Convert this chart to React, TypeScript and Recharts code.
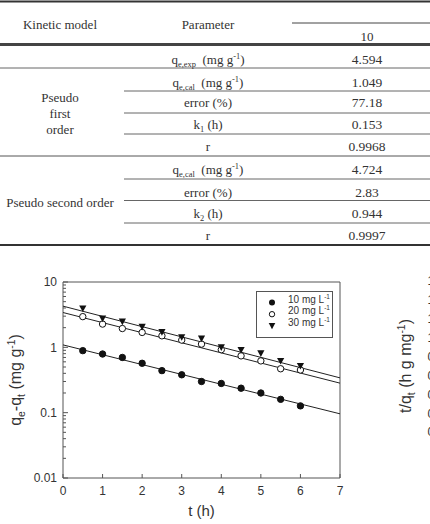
import React from 'react';
import { ComposedChart, Scatter, Line, XAxis, YAxis, ReferenceArea, Legend } from 'recharts';

// --- table ---
type Seg = { t: string; s?: 'sub' | 'sup' };

const tableModels = ['Pseudo first order', 'Pseudo second order'];
const tableParams: Seg[][] = [
  [{ t: 'q' }, { t: 'e,exp', s: 'sub' }, { t: '\u00a0\u00a0(mg g' }, { t: '-1', s: 'sup' }, { t: ')' }],
  [{ t: 'q' }, { t: 'e,cal', s: 'sub' }, { t: '\u00a0\u00a0(mg g' }, { t: '-1', s: 'sup' }, { t: ')' }],
  [{ t: 'error (%)' }],
  [{ t: 'k' }, { t: '1', s: 'sub' }, { t: ' (h)' }],
  [{ t: 'r' }],
  [{ t: 'q' }, { t: 'e,cal', s: 'sub' }, { t: '\u00a0\u00a0(mg g' }, { t: '-1', s: 'sup' }, { t: ')' }],
  [{ t: 'error (%)' }],
  [{ t: 'k' }, { t: '2', s: 'sub' }, { t: ' (h)' }],
  [{ t: 'r' }],
];
const tableValues = ['4.594', '1.049', '77.18', '0.153', '0.9968', '4.724', '2.83', '0.944', '0.9997'];
const rowY = [59, 82, 102, 124, 146, 169, 192, 213, 235];

// --- chart data ---
const times = [0.5, 1, 1.5, 2, 2.5, 3, 3.5, 4, 4.5, 5, 5.5, 6];
const conc10 = [0.89, 0.79, 0.7, 0.57, 0.44, 0.38, 0.3, 0.28, 0.237, 0.2, 0.16, 0.127];
const conc20 = [2.95, 2.27, 1.94, 1.69, 1.5, 1.29, 1.12, 0.92, 0.74, 0.62, 0.47, 0.45];
const conc30 = [3.93, 2.76, 2.48, 2.06, 1.71, 1.43, 1.36, 1.0, 0.91, 0.81, 0.62, 0.52];
// fitted lines, read at t = 0 and t = 7
const fitTimes = [0, 7];
const fit10 = [1.09, 0.096];
const fit20 = [3.41, 0.283];
const fit30 = [4.27, 0.341];

const xTicks = [0, 1, 2, 3, 4, 5, 6, 7];
const yMajor = [0.01, 0.1, 1, 10];
const yLabels = ['0.01', '0.1', '1', '10'];
const yTicks = yMajor.slice(0, 3).flatMap((d) => [1, 2, 3, 4, 5, 6, 7, 8, 9].map((m) => m * d)).concat([10]);

// partial labels of the next panel, cut off by the page edge
const sideLabels = ['1.6', '1.4', '1.2', '1.0', '0.8', '0.6', '0.4', '0.2', '0.0'];

const toRows = (vals: number[], ts: number[]) => ts.map((t, i) => ({ t, v: vals[i] }));

const AX = '#555';
const TXT = '#333';
const SANS = 'Liberation Sans, Arial, sans-serif';
const SERIF = 'Liberation Serif, Times New Roman, serif';

function spans(segs: Seg[], size: number) {
  let prev = 0;
  return segs.map((g, i) => {
    const shift = g.s === 'sub' ? size * 0.28 : g.s === 'sup' ? -size * 0.38 : 0;
    const dy = shift - prev;
    prev = shift;
    return (
      <tspan key={i} dy={dy} fontSize={g.s ? size * 0.65 : size}>
        {g.t}
      </tspan>
    );
  });
}

const XTick = (props: any) => {
  const { x, y, payload } = props;
  const ay = y - 8;
  return (
    <g>
      <line x1={x} x2={x} y1={ay} y2={ay - 4} stroke={AX} />
      <text x={x} y={y} dy="0.71em" textAnchor="middle" fontSize={12} fill={TXT} fontFamily={SANS}>
        {payload.value}
      </text>
    </g>
  );
};

const YTick = (props: any) => {
  const { x, y, payload } = props;
  const ax = x + 6;
  const idx = yMajor.findIndex((m) => Math.abs(m - payload.value) < 1e-9);
  return (
    <g>
      <line x1={ax} x2={ax + (idx >= 0 ? 5 : 3)} y1={y} y2={y} stroke={AX} />
      {idx >= 0 && (
        <text x={x} y={y} dy="0.35em" textAnchor="end" fontSize={12} fill={TXT} fontFamily={SANS}>
          {yLabels[idx]}
        </text>
      )}
    </g>
  );
};

const XLabel = (props: any) => {
  const vb = props.viewBox;
  return (
    <text x={vb.x + vb.width / 2} y={vb.y + 38} textAnchor="middle" fontSize={15} fill={TXT} fontFamily={SANS}>
      t (h)
    </text>
  );
};

const YLabel = (props: any) => {
  const vb = props.viewBox;
  const cx = vb.x + 13;
  const cy = vb.y + vb.height / 2;
  return (
    <text
      x={cx}
      y={cy}
      transform={`rotate(-90 ${cx} ${cy})`}
      textAnchor="middle"
      fontSize={16}
      fill={TXT}
      fontFamily={SANS}
    >
      {spans([{ t: 'q' }, { t: 'e', s: 'sub' }, { t: '-q' }, { t: 't', s: 'sub' }, { t: ' (mg g' }, { t: '-1', s: 'sup' }, { t: ')' }], 16)}
    </text>
  );
};

const Dot = (fill: string) => (p: any) => <circle cx={p.cx} cy={p.cy} r={3.2} fill={fill} stroke="#111" strokeWidth={1} />;
const Tri = (p: any) => (
  <path d={`M${p.cx - 3.6},${p.cy - 3} L${p.cx + 3.6},${p.cy - 3} L${p.cx},${p.cy + 3.6} Z`} fill="#111" />
);

const legendItems = [
  { label: '10 mg L', shape: 'filled' },
  { label: '20 mg L', shape: 'open' },
  { label: '30 mg L', shape: 'tri' },
];

const LegendBox = () => (
  <svg width={77} height={47} style={{ display: 'block' }}>
    <rect x={0.5} y={0.5} width={76} height={46} fill="#fff" stroke={AX} />
    {legendItems.map((it, i) => {
      const cy = 11.5 + i * 11.7;
      const cx = 16;
      return (
        <g key={it.label}>
          {it.shape === 'filled' && <circle cx={cx} cy={cy} r={3} fill="#111" />}
          {it.shape === 'open' && <circle cx={cx} cy={cy} r={2.7} fill="#fff" stroke="#111" />}
          {it.shape === 'tri' && <path d={`M${cx - 3.3},${cy - 2.8} L${cx + 3.3},${cy - 2.8} L${cx},${cy + 3.3} Z`} fill="#111" />}
          <text x={32} y={cy} dy="0.35em" fontSize={10} fill={TXT} fontFamily={SANS}>
            {spans([{ t: it.label }, { t: '-1', s: 'sup' }], 10)}
          </text>
        </g>
      );
    })}
  </svg>
);

const Table = () => (
  <svg width={430} height={260} style={{ position: 'absolute', left: 0, top: 0 }} fontFamily={SERIF} fill={TXT}>
    <line x1={0} x2={430} y1={1.5} y2={1.5} stroke="#333" strokeWidth={2} />
    <line x1={292} x2={430} y1={23} y2={23} stroke="#444" strokeWidth={1} />
    <line x1={0} x2={430} y1={44.5} y2={44.5} stroke="#444" strokeWidth={3} />
    <line x1={0} x2={430} y1={68} y2={68} stroke="#666" />
    {[91, 113, 134].map((y) => (
      <line key={y} x1={124} x2={430} y1={y} y2={y} stroke="#666" />
    ))}
    <line x1={0} x2={430} y1={156} y2={156} stroke="#555" />
    {[179, 200.5, 223].map((y) => (
      <line key={y} x1={124} x2={430} y1={y} y2={y} stroke="#666" />
    ))}
    <line x1={0} x2={430} y1={245} y2={245} stroke="#333" strokeWidth={2} />

    <text x={60} y={28.5} textAnchor="middle" fontSize={13}>Kinetic model</text>
    <text x={208} y={28.5} textAnchor="middle" fontSize={13}>Parameter</text>
    <text x={367} y={40.5} textAnchor="middle" fontSize={13}>10</text>

    {tableModels[0].split(' ').map((w, i) => (
      <text key={w} x={60} y={101.5 + i * 16} textAnchor="middle" fontSize={13}>{w}</text>
    ))}
    <text x={60} y={206.5} textAnchor="middle" fontSize={13}>{tableModels[1]}</text>

    {tableParams.map((segs, i) => (
      <text key={i} x={208} y={rowY[i] + 4.5} textAnchor="middle" fontSize={13}>
        {spans(segs, 13)}
      </text>
    ))}
    {tableValues.map((v, i) => (
      <text key={i} x={367} y={rowY[i] + 4.5} textAnchor="middle" fontSize={13.5}>{v}</text>
    ))}
  </svg>
);

const SidePanel = () => (
  <svg width={430} height={524} style={{ position: 'absolute', left: 0, top: 0 }} fontFamily={SANS} fill={TXT}>
    <text x={411} y={366} transform="rotate(-90 411 366)" textAnchor="middle" fontSize={16}>
      {spans([{ t: 't/q' }, { t: 't', s: 'sub' }, { t: ' (h g mg' }, { t: '-1', s: 'sup' }, { t: ')' }], 16)}
    </text>
    {sideLabels.map((s, i) => (
      <text key={s} x={427.5} y={281 + i * 18.9} dy="0.35em" fontSize={12}>{s}</text>
    ))}
  </svg>
);

export default function App() {
  return (
    <div style={{ position: 'absolute', left: 0, top: 0, width: 430, height: 524, background: '#fff', overflow: 'hidden' }}>
      <Table />
      <SidePanel />
      <div style={{ position: 'absolute', left: 0, top: 0 }}>
        <ComposedChart width={430} height={524} margin={{ top: 282, right: 90, bottom: 6, left: 8 }}>
          <XAxis
            dataKey="t"
            type="number"
            domain={[0, 7]}
            ticks={xTicks}
            tick={<XTick />}
            tickSize={0}
            tickMargin={8}
            axisLine={false}
            height={40}
            label={{ content: <XLabel /> }}
          />
          <YAxis
            dataKey="v"
            type="number"
            scale="log"
            domain={[0.01, 10]}
            allowDataOverflow
            ticks={yTicks}
            interval={0}
            tick={<YTick />}
            tickSize={0}
            tickMargin={6}
            axisLine={false}
            width={55}
            label={{ content: <YLabel /> }}
          />
          <ReferenceArea x1={0} x2={7} y1={0.01} y2={10} fill="none" stroke={AX} strokeWidth={1} ifOverflow="visible" />
          <Line data={toRows(fit30, fitTimes)} dataKey="v" stroke="#222" strokeWidth={1} dot={false} legendType="none" isAnimationActive={false} />
          <Line data={toRows(fit20, fitTimes)} dataKey="v" stroke="#222" strokeWidth={1} dot={false} legendType="none" isAnimationActive={false} />
          <Line data={toRows(fit10, fitTimes)} dataKey="v" stroke="#222" strokeWidth={1} dot={false} legendType="none" isAnimationActive={false} />
          <Scatter name="10 mg L-1" data={toRows(conc10, times)} dataKey="v" shape={Dot('#111')} isAnimationActive={false} />
          <Scatter name="20 mg L-1" data={toRows(conc20, times)} dataKey="v" shape={Dot('#fff')} isAnimationActive={false} />
          <Scatter name="30 mg L-1" data={toRows(conc30, times)} dataKey="v" shape={Tri} isAnimationActive={false} />
          <Legend
            layout="horizontal"
            verticalAlign="middle"
            align="center"
            wrapperStyle={{ position: 'absolute', top: 291, left: 256, width: 77, height: 47 }}
            content={() => <LegendBox />}
          />
        </ComposedChart>
      </div>
    </div>
  );
}
